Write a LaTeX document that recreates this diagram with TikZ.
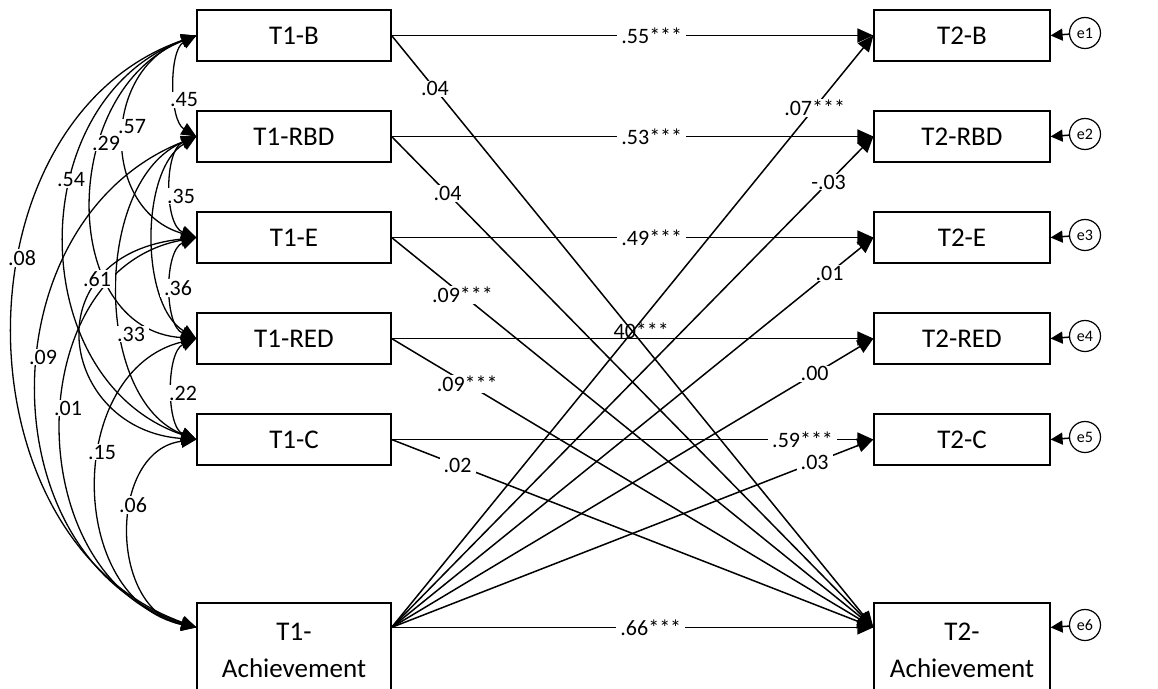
\documentclass[tikz,border=0pt]{standalone}
\usepackage{fontspec}
\setmainfont{Carlito}
\usetikzlibrary{arrows.meta}
\begin{document}
\begin{tikzpicture}[x=1pt,y=-1pt,
  box/.style={draw, line width=1.2pt, minimum height=51pt, inner sep=0pt,
    font=\fontsize{27}{37}\selectfont},
  lbox/.style={box, minimum width=194pt},
  rbox/.style={box, minimum width=176pt},
  err/.style={draw, circle, line width=1.2pt, minimum size=31pt, inner sep=0pt,
    font=\fontsize{16}{16}\selectfont},
  reg/.style={line width=1.5pt, -{Triangle[length=16pt,width=14pt]}},
  errarr/.style={line width=1.5pt, -{Triangle[length=12pt,width=12pt]}},
  cov/.style={line width=1.3pt,
    {Triangle[length=15pt,width=13pt]}-{Triangle[length=15pt,width=13pt]}},
  coef/.style={fill=white, inner xsep=4pt, inner ysep=1pt,
    font=\fontsize{22}{22}\selectfont},
  plain/.style={inner sep=0pt, font=\fontsize{22}{22}\selectfont},
]
\useasboundingbox (0,0) rectangle (1158,688);

% time 1 variables
\node[lbox] (B1) at (294,35.5) {T1-B};
\node[lbox] (R1) at (294,136.5) {T1-RBD};
\node[lbox] (E1) at (294,237.5) {T1-E};
\node[lbox] (D1) at (294,338.5) {T1-RED};
\node[lbox] (C1) at (294,439.5) {T1-C};
\node[lbox, minimum height=95pt, align=center] (A1) at (294,650.5) {T1-\\Achievement};

% time 2 variables
\node[rbox] (B2) at (962,35.5) {T2-B};
\node[rbox] (R2) at (962,136.5) {T2-RBD};
\node[rbox] (E2) at (962,237.5) {T2-E};
\node[rbox] (D2) at (962,338.5) {T2-RED};
\node[rbox] (C2) at (962,439.5) {T2-C};
\node[rbox, minimum height=95pt, align=center] (A2) at (962,650.5) {T2-\\Achievement};

% residuals
\node[err] (e1) at (1085,33) {e1};
\node[err] (e2) at (1085,134) {e2};
\node[err] (e3) at (1085,235) {e3};
\node[err] (e4) at (1085,336) {e4};
\node[err] (e5) at (1085,437) {e5};
\node[err] (e6) at (1085,625) {e6};

% attachment points of the achievement boxes
\coordinate (A1o) at ([yshift=-25pt]A1.north east);
\coordinate (A1w) at ([yshift=-25pt]A1.north west);
\coordinate (A2w) at ([yshift=-25pt]A2.north west);
\coordinate (A2e) at ([yshift=-25pt]A2.north east);

% autoregressive paths
\draw[reg] (B1.east) -- (B2.west);
\draw[reg] (R1.east) -- (R2.west);
\draw[reg] (E1.east) -- (E2.west);
\draw[reg] (D1.east) -- node[plain, pos=.518, anchor=base] {40***} (D2.west);
\draw[reg] (C1.east) -- (C2.west);
\draw[reg] (A1o) -- (A2w);

% cross-lagged paths to achievement
\draw[reg] (B1.east) -- (A2w);
\draw[reg] (R1.east) -- (A2w);
\draw[reg] (E1.east) -- (A2w);
\draw[reg] (D1.east) -- (A2w);
\draw[reg] (C1.east) -- (A2w);

% cross-lagged paths from achievement
\draw[reg] (A1o) -- (B2.west);
\draw[reg] (A1o) -- (R2.west);
\draw[reg] (A1o) -- (E2.west);
\draw[reg] (A1o) -- (D2.west);
\draw[reg] (A1o) -- (C2.west);

% residual arrows
\draw[errarr] (e1) -- (B2.east);
\draw[errarr] (e2) -- (R2.east);
\draw[errarr] (e3) -- (E2.east);
\draw[errarr] (e4) -- (D2.east);
\draw[errarr] (e5) -- (C2.east);
\draw[errarr] (e6) -- (A2e);

% coefficients on the paths
\path (B1.east) -- node[coef, pos=.54] {.55***} (B2.west);
\path (R1.east) -- node[coef, pos=.54] {.53***} (R2.west);
\path (E1.east) -- node[coef, pos=.54] {.49***} (E2.west);
\path (C1.east) -- node[coef, pos=.853] {.59***} (C2.west);
\path (A1o) -- node[coef, pos=.538] {.66***} (A2w);
\path (B1.east) -- node[coef, pos=.09] {.04} (A2w);
\path (R1.east) -- node[coef, pos=.116] {.04} (A2w);
\path (E1.east) -- node[coef, pos=.147] {.09***} (A2w);
\path (D1.east) -- node[coef, pos=.157] {.09***} (A2w);
\path (C1.east) -- node[coef, pos=.137] {.02} (A2w);
\path (A1o) -- node[coef, pos=.878] {.07***} (B2.west);
\path (A1o) -- node[coef, pos=.907] {-.03} (R2.west);
\path (A1o) -- node[coef, pos=.909] {.01} (E2.west);
\path (A1o) -- node[coef, pos=.878] {.00} (D2.west);
\path (A1o) -- node[coef, pos=.878] {.03} (C2.west);

% covariances among time 1 variables
\draw[cov] (B1.west) .. controls (169,50) and (169,120) .. (R1.west);
\draw[cov] (R1.west) .. controls (164,150) and (164,225) .. (E1.west);
\draw[cov] (E1.west) .. controls (164,250) and (164,326) .. (D1.west);
\draw[cov] (D1.west) .. controls (166,352) and (166,427) .. (C1.west);
\draw[cov] (C1.west) .. controls (108,450) and (108,610) .. (A1w);
\draw[cov] (B1.west) .. controls (101,70) and (101,210) .. (E1.west);
\draw[cov] (B1.west) .. controls (58,90) and (58,330) .. (D1.west);
\draw[cov] (B1.west) .. controls (22,100) and (22,380) .. (C1.west);
\draw[cov] (B1.west) .. controls (-47,120) and (-47,540) .. (A1w);
\draw[cov] (R1.west) .. controls (140,170) and (140,305) .. (D1.west);
\draw[cov] (R1.west) .. controls (93,180) and (93,400) .. (C1.west);
\draw[cov] (R1.west) .. controls (-15,220) and (-15,560) .. (A1w);
\draw[cov] (E1.west) .. controls (30,255) and (60,430) .. (C1.west);
\draw[cov] (E1.west) .. controls (18,270) and (18,580) .. (A1w);
\draw[cov] (D1.west) .. controls (65,370) and (65,600) .. (A1w);

% correlation values
\node[coef] at (184,100) {.45};
\node[coef] at (181,196) {.35};
\node[coef] at (178,288) {.36};
\node[coef] at (183,393) {.22};
\node[coef] at (133,505) {.06};
\node[coef] at (132,127) {.57};
\node[coef] at (106,143) {.29};
\node[coef] at (71,180) {.54};
\node[coef] at (22,258) {.08};
\node[coef] at (131,334) {.33};
\node[coef] at (43,357) {.09};
\node[coef] at (97,279) {.61};
\node[coef] at (68,408) {.01};
\node[coef] at (102,452) {.15};
\end{tikzpicture}
\end{document}
